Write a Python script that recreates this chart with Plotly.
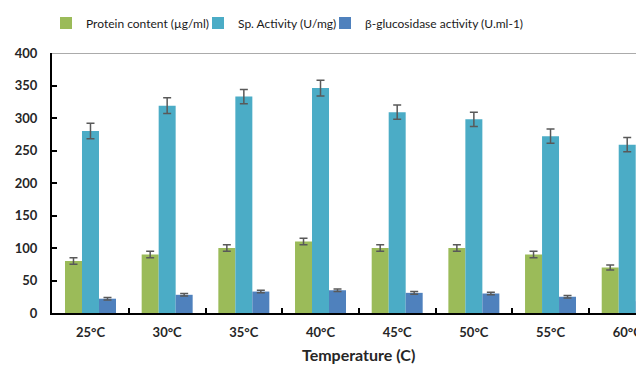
import plotly.graph_objects as go

categories = ["25°C", "30°C", "35°C", "40°C", "45°C", "50°C", "55°C", "60°C"]
protein = [80, 90, 100, 110, 100, 100, 90, 70]
protein_err = [5, 5, 5, 5, 5, 5, 5, 4]
sp_activity = [280, 319, 333, 346, 309, 298, 272, 259]
sp_err = [12, 12, 11, 12, 11, 11, 11, 11]
bgluc = [22, 28, 33, 35, 31, 30, 25, 18]
bgluc_err = [2, 2, 2, 2, 2, 2, 2, 2]

names = ["Protein content (µg/ml)", "Sp. Activity (U/mg)", "β-glucosidase activity (U.ml-1)"]
colors = ["#9BBB59", "#4BACC6", "#4F81BD"]
legend_ids = ["legend", "legend2", "legend3"]
err_color = "#595959"

fig = go.Figure()
for vals, errs, name, col, lg in zip([protein, sp_activity, bgluc],
                                     [protein_err, sp_err, bgluc_err], names, colors, legend_ids):
    fig.add_trace(go.Bar(
        x=categories, y=vals, name=name, legend=lg,
        marker=dict(color=col, line=dict(width=0)),
        error_y=dict(type="data", array=errs, visible=True,
                     color=err_color, thickness=1.5, width=4),
    ))

fig.add_shape(type="line", xref="paper", yref="y", x0=0, x1=1, y0=400, y1=400,
              line=dict(color="#595959", width=1.2))

fig.add_annotation(text="<b>Temperature (C)</b>", x=3.5, xref="x",
                   y=-0.158, yref="paper", showarrow=False,
                   font=dict(size=16, color="#262626", family="Lato"),
                   yanchor="middle")

# the page body has an 8px margin, so the figure is sized to fit the window
plot_w = 592.0
def lx(px):
    return (px - 52) / plot_w

leg_common = dict(orientation="h", yanchor="middle", y=1.115, xanchor="left",
                  font=dict(size=12, color="#1a1a1a", family="Lato"),
                  itemwidth=30, bgcolor="rgba(0,0,0,0)")

fig.update_layout(
    width=636, height=358,
    margin=dict(l=44, r=0, t=45, b=53),
    paper_bgcolor="white", plot_bgcolor="white",
    barmode="group", bargap=0.335, bargroupgap=0,
    font=dict(family="Lato", size=12, color="#262626"),
    showlegend=True,
    legend=dict(x=lx(46), **leg_common),
    legend2=dict(x=lx(198), **leg_common),
    legend3=dict(x=lx(325), **leg_common),
    xaxis=dict(range=[-0.502, 7.219], showline=True, linecolor="black", linewidth=2,
               ticks="inside", ticklen=5, tickwidth=2, tickcolor="black",
               tickson="boundaries", showgrid=False, automargin=False,
               tickfont=dict(size=13, family="Lato", color="#262626", weight="bold"),
               ticklabelstandoff=6),
    yaxis=dict(range=[0, 400], dtick=50, showline=True, linecolor="black", linewidth=2,
               ticks="inside", ticklen=5, tickwidth=2, tickcolor="black",
               showgrid=False, zeroline=False, automargin=False,
               tickfont=dict(size=13, family="Lato", color="#262626", weight="bold"),
               ticklabelstandoff=10),
)

fig.write_html("out.html")
